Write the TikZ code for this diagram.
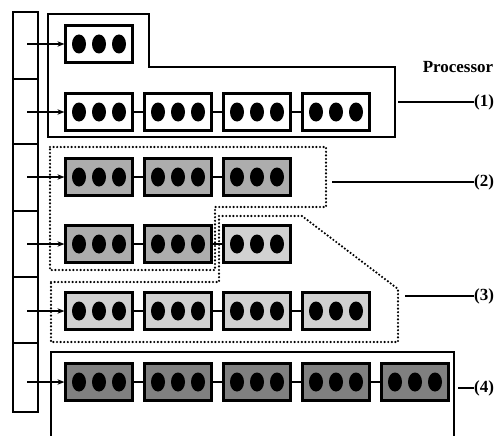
\documentclass[tikz,border=0pt]{standalone}
\usepackage{fontspec}
\setmainfont{Liberation Serif}
\usetikzlibrary{arrows.meta}
\definecolor{grpmid}{gray}{0.68}
\definecolor{grplight}{gray}{0.82}
\definecolor{grpdark}{gray}{0.50}
\newcommand{\pbox}[4]{%
  \node[cell, fill=#4] (#1) at (#2,#3) {};
  \foreach \dx in {-20,0,20} {\fill ({#2+\dx},#3) ellipse [x radius=7pt, y radius=9.5pt];}
}
\begin{document}
\begin{tikzpicture}[x=1pt,y=-1pt,
  cell/.style={draw, line width=2.2pt, minimum width=67pt, minimum height=37pt, inner sep=0pt},
  link/.style={line width=1.6pt},
  feed/.style={line width=1.3pt, -{Stealth[length=7pt,width=5.5pt]}},
  grpsolid/.style={line width=1.1pt},
  grpdot/.style={line width=2.4pt, dash pattern=on 0pt off 3.6pt, line cap=round},
  lab/.style={font=\fontsize{17}{20}\selectfont\bfseries, inner sep=0pt},
  labline/.style={line width=1.2pt}]
\useasboundingbox (0,0) rectangle (498,436);

% queue column
\draw[line width=2pt] (13,12) rectangle (38,412);
\foreach \yy in {79,144,211,277,343} {\draw[line width=2pt] (13,\yy) -- (38,\yy);}

% row 1
\pbox{a1}{99}{44}{white}
% row 2
\pbox{b1}{99}{112}{white}
\pbox{b2}{178}{112}{white}
\pbox{b3}{257}{112}{white}
\pbox{b4}{336}{112}{white}
% row 3
\pbox{c1}{99}{177}{grpmid}
\pbox{c2}{178}{177}{grpmid}
\pbox{c3}{257}{177}{grpmid}
% row 4
\pbox{d1}{99}{244}{grpmid}
\pbox{d2}{178}{244}{grpmid}
\pbox{d3}{257}{244}{grplight}
% row 5
\pbox{e1}{99}{311}{grplight}
\pbox{e2}{178}{311}{grplight}
\pbox{e3}{257}{311}{grplight}
\pbox{e4}{336}{311}{grplight}
% row 6
\pbox{f1}{99}{382}{grpdark}
\pbox{f2}{178}{382}{grpdark}
\pbox{f3}{257}{382}{grpdark}
\pbox{f4}{336}{382}{grpdark}
\pbox{f5}{415}{382}{grpdark}

% links
\draw[link] (b1) -- (b2); \draw[link] (b2) -- (b3); \draw[link] (b3) -- (b4);
\draw[link] (c1) -- (c2); \draw[link] (c2) -- (c3);
\draw[link] (d1) -- (d2); \draw[link] (d2) -- (d3);
\draw[link] (e1) -- (e2); \draw[link] (e2) -- (e3); \draw[link] (e3) -- (e4);
\draw[link] (f1) -- (f2); \draw[link] (f2) -- (f3); \draw[link] (f3) -- (f4); \draw[link] (f4) -- (f5);

% feed arrows from queue cells
\coordinate (qa) at (27,44);
\coordinate (qb) at (27,112);
\coordinate (qc) at (27,177);
\coordinate (qd) at (27,244);
\coordinate (qe) at (27,311);
\coordinate (qf) at (27,382);
\draw[feed] (qa) -- (a1);
\draw[feed] (qb) -- (b1);
\draw[feed] (qc) -- (c1);
\draw[feed] (qd) -- (d1);
\draw[feed] (qe) -- (e1);
\draw[feed] (qf) -- (f1);

% processor groups
\draw[grpsolid] (48,14) -- (149,14) -- (149,67) -- (395,67) -- (395,137) -- (48,137) -- cycle;
\draw[grpdot] (50,147) -- (326,147) -- (326,207) -- (215,207) -- (215,270) -- (50,270) -- cycle;
\draw[grpdot] (51,282) -- (219,282) -- (219,216) -- (302,216) -- (398,289) -- (398,342) -- (51,342) -- cycle;
\draw[grpsolid] (51,436) -- (51,352) -- (454,352) -- (454,436);

% labels
\node[lab] (proc) at (458,67) {Processor};
\coordinate (g1) at (398,102);
\coordinate (g2) at (332,182);
\coordinate (g3) at (405,296);
\coordinate (g4) at (458,388);
\node[lab, anchor=west] (l1) at (474,102) {(1)};
\node[lab, anchor=west] (l2) at (474,182) {(2)};
\node[lab, anchor=west] (l3) at (474,296) {(3)};
\node[lab, anchor=west] (l4) at (474,388) {(4)};
\draw[labline] (g1) -- (l1.west);
\draw[labline] (g2) -- (l2.west);
\draw[labline] (g3) -- (l3.west);
\draw[labline] (g4) -- (l4.west);
\end{tikzpicture}
\end{document}
